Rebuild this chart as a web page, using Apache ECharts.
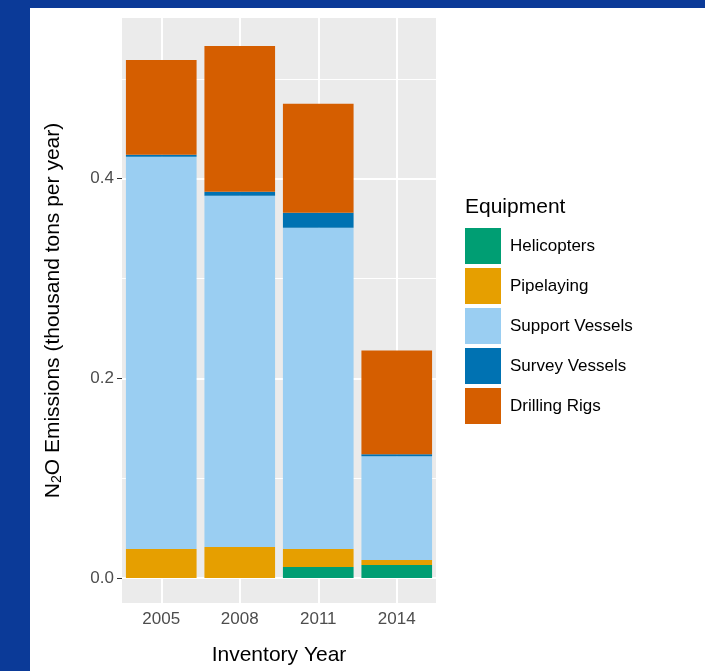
<!DOCTYPE html>
<html><head><meta charset="utf-8">
<script src="https://cdn.jsdelivr.net/npm/echarts@6/dist/echarts.min.js"></script>
<style>html,body{margin:0;padding:0;background:#0b3a98;}#c{width:705px;height:671px;}</style>
</head><body><div id="c"></div>
<script>
const years = ['2005','2008','2011','2014'];
const helicopters = [0, 0, 0.011, 0.013];
const pipelaying = [0.029, 0.031, 0.018, 0.005];
const supportVessels = [0.393, 0.352, 0.322, 0.104];
const surveyVessels = [0.002, 0.004, 0.015, 0.002];
const drillingRigs = [0.095, 0.146, 0.109, 0.104];
const majorTicks = [0, 0.2, 0.4];
const minorTicks = [0.1, 0.3, 0.5];

const names = ['Helicopters','Pipelaying','Support Vessels','Survey Vessels','Drilling Rigs'];
const colors = ['#009E73','#E69F00','#9ACEF2','#0072B2','#D55E00'];
const datas = [helicopters, pipelaying, supportVessels, surveyVessels, drillingRigs];

const gridLines = [];
majorTicks.forEach(v => gridLines.push({yAxis: v, lineStyle:{color:'#fff', width:2, type:'solid'}}));
minorTicks.forEach(v => gridLines.push({yAxis: v, lineStyle:{color:'#fff', width:1, type:'solid'}}));
years.forEach(y => gridLines.push({xAxis: y, lineStyle:{color:'#fff', width:2, type:'solid'}}));

const series = names.map((n, i) => ({
  name: n, type: 'bar', stack: 'a', data: datas[i], barWidth: '90%',
  itemStyle: {color: colors[i]}, z: 3,
  markLine: i === 0 ? {silent:true, symbol:'none', label:{show:false}, data: gridLines, z: 1} : undefined
}));

const chart = echarts.init(document.getElementById('c'));
chart.setOption({
  animation: false,
  backgroundColor: 'transparent',
  graphic: [{type:'rect', shape:{x:30,y:8,width:675,height:663}, style:{fill:'#fff'}, z:-10}],
  grid: {left:122, top:18, width:314, height:585, show:true, backgroundColor:'#ebebeb', borderWidth:0},
  xAxis: {
    type:'category', data: years,
    axisLine:{show:false},
    axisTick:{show:true, alignWithLabel:true, length:5, lineStyle:{color:'#333'}},
    axisLabel:{fontSize:17, color:'#4d4d4d', margin:8, fontFamily:'Liberation Sans'},
    name:'Inventory Year', nameLocation:'middle', nameGap:42,
    nameTextStyle:{fontSize:21, color:'#000', fontFamily:'Liberation Sans'}
  },
  yAxis: {
    type:'value', min:-0.025, max:0.561,
    splitLine:{show:false}, axisLine:{show:false},
    axisTick:{show:true, length:5, customValues: majorTicks, lineStyle:{color:'#333'}},
    axisLabel:{fontSize:17, color:'#4d4d4d', customValues: majorTicks, formatter: v => v.toFixed(1), fontFamily:'Liberation Sans'},
    name:'{a|N}{s|2}{a|O Emissions (thousand tons per year)}', nameLocation:'middle', nameGap:58, nameRotate:90,
    nameTextStyle:{rich:{a:{fontSize:21, color:'#000', fontFamily:'Liberation Sans'}, s:{fontSize:14, color:'#000', verticalAlign:'bottom', padding:[8,0,0,0], fontFamily:'Liberation Sans'}}}
  },
  legend: {
    orient:'vertical', left:465, top:228, padding:0, data: names, icon:'rect',
    itemWidth:36, itemHeight:36, itemGap:4,
    textStyle:{fontSize:17, color:'#000', fontFamily:'Liberation Sans', padding:[0,0,0,4]},
    selectedMode:false
  },
  title: {text:'Equipment', left:465, top:197, padding:0, textStyle:{fontSize:21, fontWeight:'normal', color:'#000', fontFamily:'Liberation Sans'}},
  series
});
</script></body></html>
